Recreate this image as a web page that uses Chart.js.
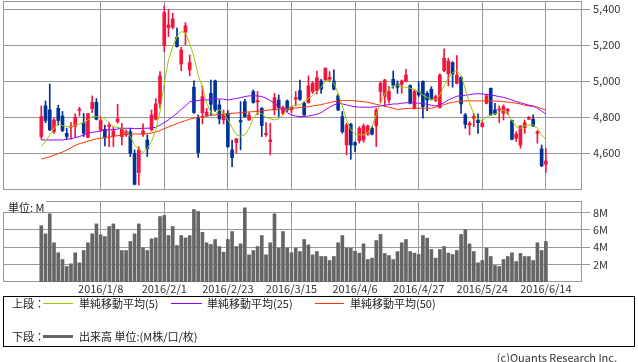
<!DOCTYPE html>
<html>
<head>
<meta charset="utf-8">
<script src="https://cdn.jsdelivr.net/npm/chart.js@4"></script>
<style>
  body { margin: 0; background: #fff; width: 638px; height: 362px; overflow: hidden; position: relative;
         font-family: "Noto Sans CJK JP", sans-serif; font-size: 11px; color: #222; }
  canvas { position: absolute; left: 0; }
  #price { top: -10px; }
  #vol { top: 190px; }
  .abs { position: absolute; line-height: 13px; white-space: nowrap; }
  .ln { position: absolute; height: 1px; }
  #legend { position: absolute; left: 3px; top: 296px; width: 632px; height: 51px; box-sizing: border-box; border: 1px solid #000; }
</style>
</head>
<body>
<canvas id="price" width="638" height="210"></canvas>
<canvas id="vol" width="638" height="110"></canvas>

<div class="abs" style="left:0;top:199px;width:46px;height:13px;background:#fff;">
  <span class="abs" style="left:8px;top:2px;">単位: M</span>
</div>

<div id="legend"></div>
<div class="abs" style="left:12px;top:297px;">上段：</div>
<div class="ln" style="left:43px;top:303px;width:30px;background:#99cc00;"></div>
<div class="abs" style="left:79px;top:297px;">単純移動平均(5)</div>
<div class="ln" style="left:171px;top:303px;width:31px;background:#9900ff;"></div>
<div class="abs" style="left:207px;top:297px;">単純移動平均(25)</div>
<div class="ln" style="left:315px;top:303px;width:29px;background:#ff3300;"></div>
<div class="abs" style="left:350px;top:297px;">単純移動平均(50)</div>
<div class="abs" style="left:12px;top:330px;">下段：</div>
<div class="ln" style="left:43px;top:335px;width:30px;height:3px;background:#666;"></div>
<div class="abs" style="left:79px;top:330px;">出来高 単位:(M株/口/枚)</div>
<div class="abs" style="right:21px;top:351px;color:#333;">(c)Quants Research Inc.</div>

<script>
// x axis: trading-day index, 0 = first candle
const tickIdx = [14, 29, 44, 59, 74, 89, 104, 119];
const tickLabels = ['2016/1/8', '2016/2/1', '2016/2/23', '2016/3/15', '2016/4/6', '2016/4/27', '2016/5/24', '2016/6/14'];
const priceTicks = [4600, 4800, 5000, 5200, 5400];
const volTicks = [2, 4, 6, 8];

const open = [
  4693, 4863, 4841, 4720, 4850, 4807, 4711, 4745, 4748, 4839,
  4770, 4689, 4848, 4883, 4730, 4733, 4748, 4693, 4776, 4693,
  4702, 4720, 4600, 4493, 4706, 4674, 4730, 4789, 4878, 5198,
  5298, 5300, 5245, 5096, 5272, 5063, 4967, 4795, 4826, 4813,
  4933, 5002, 4869, 4785, 4822, 4619, 4659, 4782, 4887, 4785,
  4943, 4885, 4850, 4704, 4665, 4841, 4896, 4822, 4891, 4841,
  4900, 4948, 4878, 4882, 4943, 4948, 5002, 5007, 5011, 5002,
  4919, 4804, 4646, 4761, 4659, 4670, 4674, 4706, 4739, 4752,
  4943, 4915, 4896, 5011, 4985, 4983, 4998, 4976, 4850, 4943,
  4998, 4933, 4956, 4893, 4854, 5059, 5041, 5104, 4989, 5022,
  4813, 4756, 4795, 4785, 4748, 4878, 4961, 4841, 4841, 4822,
  4835, 4782, 4683, 4646, 4743, 4789, 4789, 4711, 4624, 4539
];
const high = [
  4863, 4891, 4985, 4795, 4867, 4832, 4739, 4770, 4819, 4856,
  4822, 4822, 4919, 4904, 4804, 4757, 4770, 4748, 4872, 4767,
  4730, 4739, 4619, 4637, 4763, 4702, 4841, 4904, 5054, 5419,
  5400, 5378, 5295, 5189, 5326, 5146, 5002, 4813, 4974, 4850,
  5007, 5007, 4896, 4841, 4837, 4674, 4683, 4887, 4900, 4826,
  4952, 4943, 4854, 4770, 4767, 4933, 4924, 4863, 4896, 4863,
  4943, 5007, 4887, 5030, 4998, 5057, 5011, 5076, 5054, 5063,
  4930, 4832, 4767, 4767, 4665, 4748, 4763, 4757, 4748, 4850,
  4998, 5011, 4970, 5057, 5002, 5007, 5067, 4980, 4952, 4998,
  5002, 4943, 4970, 4924, 5041, 5180, 5128, 5109, 5143, 5026,
  4822, 4776, 4822, 4819, 4776, 4928, 4963, 4878, 4863, 4869,
  4850, 4785, 4720, 4752, 4785, 4804, 4813, 4726, 4646, 4628
];
const low = [
  4678, 4770, 4726, 4711, 4757, 4720, 4678, 4678, 4689, 4807,
  4693, 4685, 4826, 4785, 4720, 4641, 4637, 4637, 4767, 4646,
  4693, 4582, 4424, 4424, 4693, 4582, 4724, 4785, 4850, 5165,
  5248, 5291, 5190, 5059, 5202, 5030, 4822, 4578, 4763, 4804,
  4813, 4832, 4763, 4763, 4633, 4526, 4600, 4619, 4800, 4782,
  4878, 4813, 4693, 4693, 4591, 4813, 4804, 4813, 4832, 4826,
  4863, 4893, 4810, 4878, 4933, 4930, 4933, 5004, 4998, 4952,
  4837, 4711, 4591, 4567, 4609, 4656, 4661, 4700, 4702, 4637,
  4882, 4863, 4878, 4961, 4933, 4933, 4996, 4874, 4845, 4915,
  4795, 4837, 4896, 4887, 4850, 5054, 4974, 4967, 4985, 4822,
  4739, 4702, 4748, 4711, 4745, 4874, 4810, 4813, 4770, 4785,
  4815, 4674, 4665, 4628, 4711, 4789, 4748, 4656, 4526, 4493
];
const close = [
  4804, 4782, 4730, 4785, 4782, 4726, 4693, 4752, 4800, 4843,
  4711, 4819, 4882, 4789, 4782, 4687, 4756, 4724, 4791, 4739,
  4720, 4600, 4428, 4619, 4724, 4624, 4813, 4874, 5030, 5382,
  5313, 5346, 5193, 5174, 5308, 5104, 4826, 4604, 4915, 4828,
  4872, 4841, 4791, 4817, 4637, 4576, 4680, 4774, 4804, 4813,
  4882, 4893, 4754, 4711, 4674, 4909, 4854, 4854, 4841, 4856,
  4909, 4900, 4813, 4974, 4989, 5020, 4956, 5072, 5022, 4956,
  4841, 4720, 4757, 4646, 4646, 4739, 4752, 4752, 4706, 4841,
  4989, 5007, 4943, 4978, 4967, 5002, 5035, 4878, 4943, 4924,
  4859, 4896, 4900, 4915, 5035, 5128, 5113, 5041, 5035, 4874,
  4761, 4767, 4804, 4770, 4767, 4919, 4813, 4819, 4846, 4859,
  4844, 4678, 4707, 4752, 4770, 4800, 4752, 4720, 4530, 4557
];

const ma5 = [
  4637, 4665, 4702, 4739, 4767, 4754, 4748, 4748, 4756, 4763,
  4770, 4785, 4804, 4804, 4800, 4794, 4770, 4748, 4744, 4739,
  4720, 4693, 4646, 4622, 4604, 4628, 4665, 4730, 4831, 4989,
  5119, 5193, 5248, 5276, 5270, 5211, 5137, 5035, 4967, 4878,
  4826, 4813, 4844, 4822, 4785, 4744, 4702, 4696, 4702, 4739,
  4794, 4826, 4819, 4800, 4791, 4785, 4791, 4813, 4844, 4859,
  4867, 4869, 4887, 4906, 4920, 4943, 4967, 5004, 5007, 4989,
  4933, 4863, 4785, 4730, 4707, 4702, 4702, 4715, 4748, 4813,
  4878, 4930, 4956, 4974, 4980, 4970, 4967, 4961, 4956, 4943,
  4924, 4911, 4900, 4896, 4924, 4974, 5017, 5048, 5059, 5035,
  4956, 4878, 4819, 4789, 4781, 4800, 4813, 4819, 4826, 4841,
  4819, 4781, 4748, 4739, 4752, 4757, 4757, 4739, 4702, 4674
];
const ma25 = [
  4674, 4674, 4674, 4674, 4674, 4674, 4678, 4681, 4687, 4693,
  4702, 4711, 4717, 4719, 4724, 4730, 4730, 4731, 4735, 4739,
  4739, 4739, 4737, 4737, 4739, 4739, 4741, 4744, 4757, 4770,
  4785, 4804, 4822, 4844, 4863, 4885, 4891, 4893, 4896, 4896,
  4900, 4902, 4902, 4900, 4896, 4900, 4904, 4909, 4915, 4919,
  4919, 4919, 4915, 4906, 4893, 4878, 4859, 4844, 4826, 4813,
  4807, 4804, 4804, 4807, 4811, 4817, 4826, 4841, 4856, 4869,
  4878, 4874, 4869, 4863, 4859, 4856, 4856, 4856, 4856, 4859,
  4863, 4867, 4870, 4874, 4874, 4878, 4881, 4881, 4880, 4878,
  4876, 4872, 4867, 4863, 4870, 4881, 4896, 4907, 4917, 4920,
  4922, 4926, 4930, 4931, 4930, 4926, 4924, 4920, 4915, 4911,
  4904, 4896, 4887, 4881, 4874, 4867, 4863, 4850, 4835, 4817
];
const ma50 = [
  4568, 4574, 4581, 4589, 4598, 4607, 4618, 4631, 4644, 4654,
  4659, 4667, 4674, 4680, 4683, 4687, 4691, 4693, 4698, 4702,
  4706, 4707, 4707, 4707, 4707, 4709, 4713, 4718, 4726, 4737,
  4746, 4756, 4765, 4774, 4781, 4789, 4796, 4800, 4804, 4807,
  4811, 4813, 4815, 4817, 4817, 4822, 4824, 4826, 4828, 4830,
  4831, 4833, 4837, 4839, 4841, 4843, 4844, 4846, 4848, 4850,
  4852, 4854, 4856, 4859, 4863, 4867, 4870, 4876, 4881, 4887,
  4891, 4893, 4893, 4893, 4891, 4889, 4887, 4883, 4878, 4872,
  4867, 4861, 4856, 4850, 4844, 4846, 4848, 4850, 4850, 4850,
  4850, 4850, 4850, 4856, 4863, 4870, 4878, 4883, 4887, 4889,
  4891, 4891, 4891, 4891, 4891, 4891, 4891, 4889, 4889, 4887,
  4885, 4881, 4878, 4874, 4867, 4863, 4861, 4856, 4848, 4841
];

// volume, millions
const volume = [
  6.5, 5.55, 7.86, 4.52, 3.37, 2.59, 1.79, 2.1, 3.37, 2.21,
  3.63, 4.52, 5.55, 6.7, 5.44, 5.24, 6.4, 6.7, 6.05, 3.63,
  3.63, 4.67, 5.55, 6.7, 3.94, 3.63, 4.98, 5.09, 7.55, 7.67,
  5.36, 6.4, 4.21, 5.36, 5.09, 5.36, 8.36, 8.13, 5.74, 4.52,
  4.32, 4.9, 4.09, 3.44, 4.9, 5.82, 4.09, 4.4, 8.55, 3.13,
  3.63, 4.09, 5.36, 3.13, 4.52, 7.86, 3.9, 5.82, 3.9, 3.37,
  3.9, 3.51, 4.9, 4.28, 3.13, 3.51, 2.94, 2.94, 2.48, 2.94,
  4.52, 5.36, 3.94, 3.9, 3.55, 3.33, 4.4, 2.59, 2.75, 4.78,
  5.48, 3.29, 3.05, 2.59, 3.51, 4.52, 4.9, 3.51, 3.33, 3.17,
  5.36, 5.05, 3.75, 2.75, 3.75, 4.09, 3.33, 3.17, 3.63, 5.48,
  6.05, 4.4, 3.51, 2.21, 2.48, 3.9, 2.94, 1.9, 1.79, 2.59,
  2.94, 3.37, 2.36, 3.29, 2.94, 2.94, 2.48, 4.52, 3.63, 4.67
];

const idx = open.map((_, i) => i);
const X_MIN = -9.03, X_MAX = 127.52;
const UP = '#f5143c', DOWN = '#003399', GRID = '#999';
const FONT = { family: '"Noto Sans CJK JP", sans-serif', size: 11 };
const candleColor = ctx => close[ctx.dataIndex] >= open[ctx.dataIndex] ? UP : DOWN;

const frame = {
  id: 'frame',
  beforeDatasetsDraw(chart) {
    const a = chart.chartArea, c = chart.ctx;
    c.save();
    c.strokeStyle = GRID;
    c.lineWidth = 1;
    c.strokeRect(Math.round(a.left) + 0.5, Math.round(a.top) + 0.5,
      Math.round(a.right - a.left) - 1, Math.round(a.bottom - a.top) - 1);
    c.restore();
  }
};

function xScale(showLabels) {
  return {
    type: 'linear', min: X_MIN, max: X_MAX, offset: false,
    afterBuildTicks: s => { s.ticks = tickIdx.map(v => ({ value: v })); },
    ticks: {
      display: showLabels, autoSkip: false, maxRotation: 0, padding: 0,
      font: FONT, color: '#333',
      callback: v => tickLabels[tickIdx.indexOf(v)]
    },
    grid: { color: GRID, drawTicks: false, offset: false },
    border: { display: false }
  };
}

function maLine(values, color) {
  return {
    type: 'line', data: idx.map(i => ({ x: i, y: values[i] })),
    borderColor: color, borderWidth: 1, pointRadius: 0, tension: 0, order: 0
  };
}

new Chart(document.getElementById('price'), {
  type: 'bar',
  data: {
    datasets: [
      maLine(ma5, '#99cc00'),
      maLine(ma25, '#9900ff'),
      maLine(ma50, '#ff3300'),
      {
        data: idx.map(i => ({ x: i, y: [open[i], close[i]] })),
        backgroundColor: candleColor, barThickness: 3, minBarLength: 1, grouped: false, order: 1
      },
      {
        data: idx.map(i => ({ x: i, y: [low[i], high[i]] })),
        backgroundColor: candleColor, barThickness: 1, grouped: false, order: 2
      }
    ]
  },
  options: {
    responsive: false, animation: false, devicePixelRatio: 1,
    layout: { padding: { left: 3, top: 11, right: 0, bottom: 10 } },
    plugins: { legend: { display: false }, tooltip: { enabled: false } },
    scales: {
      x: xScale(false),
      y: {
        position: 'right', min: 4396, max: 5446,
        afterBuildTicks: s => { s.ticks = priceTicks.map(v => ({ value: v })); },
        afterFit: s => { s.width = 56; },
        ticks: { font: FONT, color: '#333', padding: 3, callback: v => v.toLocaleString('en-US') },
        grid: { color: GRID, tickLength: 8 },
        border: { display: false }
      }
    }
  },
  plugins: [frame]
});

new Chart(document.getElementById('vol'), {
  type: 'bar',
  data: {
    datasets: [{
      data: idx.map(i => ({ x: i, y: volume[i] })),
      backgroundColor: '#666', barThickness: 3, grouped: false
    }]
  },
  options: {
    responsive: false, animation: false, devicePixelRatio: 1,
    layout: { padding: { left: 3, top: 11, right: 0, bottom: 0 } },
    plugins: { legend: { display: false }, tooltip: { enabled: false } },
    scales: {
      x: Object.assign(xScale(true), { afterFit: s => { s.height = 18; } }),
      y: {
        position: 'right', min: 0, max: 9.34,
        afterBuildTicks: s => { s.ticks = volTicks.map(v => ({ value: v })); },
        afterFit: s => { s.width = 56; },
        ticks: { font: FONT, color: '#333', padding: 3, callback: v => v + 'M' },
        grid: { color: GRID, tickLength: 8 },
        border: { display: false }
      }
    }
  },
  plugins: [frame]
});
</script>
</body>
</html>
